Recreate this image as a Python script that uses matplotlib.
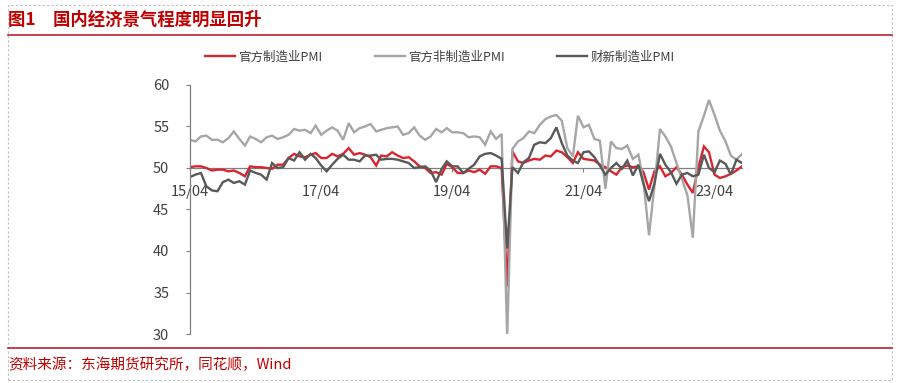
import matplotlib
matplotlib.use("Agg")
import matplotlib.pyplot as plt
import matplotlib.dates as mdates
from matplotlib.patches import Rectangle
from matplotlib.lines import Line2D
import pandas as pd

plt.rcParams['font.family'] = ['Noto Sans CJK SC', 'DejaVu Sans']

start_month = '2015-04'
n_months = 102

official_mfg = [
    50.1, 50.2, 50.2, 50.0, 49.7, 49.8, 49.8, 49.6, 49.7,
    49.4, 49.0, 50.2, 50.1, 50.1, 50.0, 49.9, 50.4, 50.4, 51.2, 51.7, 51.4,
    51.3, 51.6, 51.8, 51.2, 51.2, 51.7, 51.4, 51.7, 52.4, 51.6, 51.8, 51.6,
    51.3, 50.3, 51.5, 51.4, 51.9, 51.5, 51.2, 51.3, 50.8, 50.2, 50.0, 49.4,
    49.5, 49.2, 50.5, 50.1, 49.4, 49.4, 49.7, 49.5, 49.8, 49.3, 50.2, 50.2,
    50.0, 35.7, 52.0, 50.8, 50.6, 50.9, 51.1, 51.0, 51.5, 51.4, 52.1, 51.9,
    51.3, 50.6, 51.9, 51.1, 51.0, 50.9, 50.4, 50.1, 49.6, 49.2, 50.1, 50.3,
    50.1, 50.2, 49.5, 47.4, 49.6, 50.2, 49.0, 49.4, 50.1, 49.2, 48.0, 47.0,
    50.1, 52.6, 51.9, 49.2, 48.8, 49.0, 49.3, 49.7, 50.2,
]
official_nonmfg = [
    53.4, 53.2, 53.8, 53.9, 53.4, 53.4, 53.1, 53.6, 54.4,
    53.5, 52.7, 53.8, 53.5, 53.1, 53.7, 53.9, 53.5, 53.7, 54.0, 54.7, 54.5,
    54.6, 54.2, 55.1, 54.0, 54.5, 54.9, 54.5, 53.4, 55.4, 54.3, 54.8, 55.0,
    55.3, 54.4, 54.6, 54.8, 54.9, 55.0, 54.0, 54.2, 54.9, 53.9, 53.4, 53.8,
    54.7, 54.3, 54.8, 54.3, 54.3, 54.2, 53.7, 53.8, 53.7, 52.8, 54.4, 53.5,
    54.1, 29.6, 52.3, 53.2, 53.6, 54.4, 54.2, 55.2, 55.9, 56.2, 56.4, 55.7,
    52.4, 51.4, 56.3, 54.9, 55.2, 53.5, 53.3, 47.5, 53.2, 52.4, 52.3, 52.7,
    51.1, 51.6, 48.4, 41.9, 47.8, 54.7, 53.8, 52.6, 50.6, 48.7, 46.7, 41.6,
    54.4, 56.3, 58.2, 56.4, 54.5, 53.2, 51.5, 51.0, 51.7,
]
caixin_mfg = [
    48.9, 49.2, 49.4, 47.8, 47.3, 47.2, 48.3, 48.6, 48.2,
    48.4, 48.0, 49.7, 49.4, 49.2, 48.6, 50.6, 50.0, 50.1, 51.2, 50.9, 51.9,
    51.0, 51.7, 51.2, 50.3, 49.6, 50.4, 51.1, 51.6, 51.0, 51.0, 50.8, 51.5,
    51.5, 51.6, 51.0, 51.1, 51.1, 51.0, 50.8, 50.6, 50.0, 50.1, 50.2, 49.7,
    48.3, 49.9, 50.8, 50.2, 50.2, 49.4, 49.9, 50.4, 51.4, 51.7, 51.8, 51.5,
    51.1, 40.3, 50.1, 49.4, 50.7, 51.2, 52.8, 53.1, 53.0, 53.6, 54.9, 53.0,
    51.5, 50.9, 50.6, 51.9, 52.0, 51.3, 50.3, 49.2, 50.0, 50.6, 49.9, 50.9,
    49.1, 50.4, 48.1, 46.0, 48.1, 51.7, 50.4, 49.5, 48.1, 49.2, 49.4, 49.0,
    49.2, 51.6, 50.0, 49.5, 50.9, 50.5, 49.2, 51.0, 50.6,
]
series_names = ['官方制造业PMI', '官方非制造业PMI', '财新制造业PMI']
series_colors = ['#D9252F', '#A6A6A6', '#595959']
x_tick_dates = ['2015-04-01', '2017-04-01', '2019-04-01', '2021-04-01', '2023-04-01']
x_tick_labels = ['15/04', '17/04', '19/04', '21/04', '23/04']
y_ticks = [30, 35, 40, 45, 50, 55, 60]

title_text = '图1　国内经济景气程度明显回升'
source_text = '资料来源：东海期货研究所，同花顺，Wind'

W, H = 899, 383
fig = plt.figure(figsize=(W / 100, H / 100), dpi=100)

def fx(px):
    return px / W

def fy(py):
    return 1 - py / H

# dashed frame
fig.patches.append(Rectangle((fx(8), fy(380)), fx(892) - fx(8), fy(5) - fy(380),
                             transform=fig.transFigure, fill=False,
                             edgecolor='#BFBFBF', lw=0.8, ls=(0, (2, 2))))
# red rules
fig.add_artist(Line2D([fx(8), fx(892)], [fy(35), fy(35)], transform=fig.transFigure,
                      color='#B8222E', lw=1.2))
fig.add_artist(Line2D([fx(8), fx(892)], [fy(348), fy(348)], transform=fig.transFigure,
                      color='#B8222E', lw=1.2))

fig.text(fx(8), fy(20), title_text, color='#C00000', fontsize=12.5,
         fontweight='bold', va='center', ha='left')
fig.text(fx(8), fy(365), source_text, color='#C00000', fontsize=10.5,
         va='center', ha='left')

ax = fig.add_axes([fx(190), fy(334), fx(742) - fx(190), fy(85) - fy(334)])
dates = pd.date_range(start_month, periods=n_months, freq='MS')

for vals, name, col in zip([official_mfg, official_nonmfg, caixin_mfg],
                           series_names, series_colors):
    ax.plot(dates, vals, color=col, lw=1.7, label=name, solid_joinstyle='miter')

ax.set_xlim(dates[0], dates[-1])
ax.set_ylim(30, 60)
ax.set_yticks(y_ticks)
ax.set_xticks(pd.to_datetime(x_tick_dates))
ax.set_xticklabels(x_tick_labels)

for s in ['top', 'right']:
    ax.spines[s].set_visible(False)
ax.spines['bottom'].set_position(('data', 50))
ax.spines['bottom'].set_color('#808080')
ax.spines['left'].set_color('#808080')
ax.spines['bottom'].set_linewidth(0.9)
ax.spines['left'].set_linewidth(0.9)
ax.spines['bottom'].set_zorder(0.5)
ax.tick_params(axis='x', direction='out', length=3, pad=9, color='#808080',
               labelsize=10.5, labelcolor='#404040')
ax.tick_params(axis='y', direction='out', length=3, pad=12, color='#808080',
               labelsize=10.5, labelcolor='#404040')
ax.patch.set_visible(False)

handles, labels = ax.get_legend_handles_labels()
leg = fig.legend(handles, labels, loc='center left',
                 bbox_to_anchor=(fx(205), fy(57)), ncol=3, frameon=False,
                 fontsize=9, handlelength=2.4, handletextpad=0.25,
                 columnspacing=4.2, borderpad=0, borderaxespad=0)
for t in leg.get_texts():
    t.set_color('#404040')

fig.savefig('out.png', dpi=100)
